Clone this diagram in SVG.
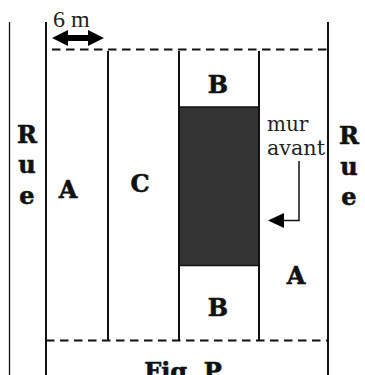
<svg xmlns="http://www.w3.org/2000/svg" width="365" height="375" viewBox="0 0 365 375">
<style>
.l{stroke:#111;stroke-width:2;fill:none}
.t{stroke:#111;stroke-width:1.3;fill:none}
.d{stroke:#111;stroke-width:2;fill:none;stroke-dasharray:8.5 5.5}
.b{font-family:"DejaVu Serif",serif;font-weight:bold;font-size:24px;fill:#111;stroke:#111;stroke-width:.6;text-anchor:middle}
.n{font-family:"DejaVu Serif",serif;font-size:20px;fill:#222}
.s{font-family:"Liberation Serif",serif;font-size:24px;fill:#222}
</style>
<rect width="365" height="375" fill="#fff"/>
<g id="plan">
<rect id="house" x="179" y="107" width="80" height="158.500" fill="#333" stroke="#111" stroke-width="1.5"/>
</g>
<g id="connectors">
<path class="t" d="M9.500 22V375"/>
<path class="l" d="M46 22V375M108 51V341M179 51V341M259 51V341M328 22V375"/>
<path class="d" d="M52 49.500H328M46 340.500H328"/>
<path d="M52 38L68 30V35H88V30L104 38L88 46V41H68V46Z" fill="#000"/>
<path d="M299 161V220.500H283" stroke="#111" stroke-width="1.500" fill="none"/>
<path d="M268 220.500L284 213V228Z" fill="#000"/>
</g>
<g id="labels">
<text class="s" x="53" y="27">6 m</text>
<text class="n" x="267" y="131">mur</text>
<text class="n" x="267" y="155" textLength="58" lengthAdjust="spacingAndGlyphs">avant</text>
<text class="b" x="27" y="143">R</text><text class="b" x="27" y="173">u</text><text class="b" x="27" y="204">e</text>
<text class="b" x="68" y="198">A</text><text class="b" x="140" y="192">C</text>
<text class="b" x="218" y="93">B</text><text class="b" x="218" y="316">B</text>
<text class="b" x="296" y="284">A</text>
<text class="b" x="349" y="144">R</text><text class="b" x="349" y="175">u</text><text class="b" x="349" y="205">e</text>
<text class="b" x="183" y="380">Fig. P</text>
</g>
</svg>
